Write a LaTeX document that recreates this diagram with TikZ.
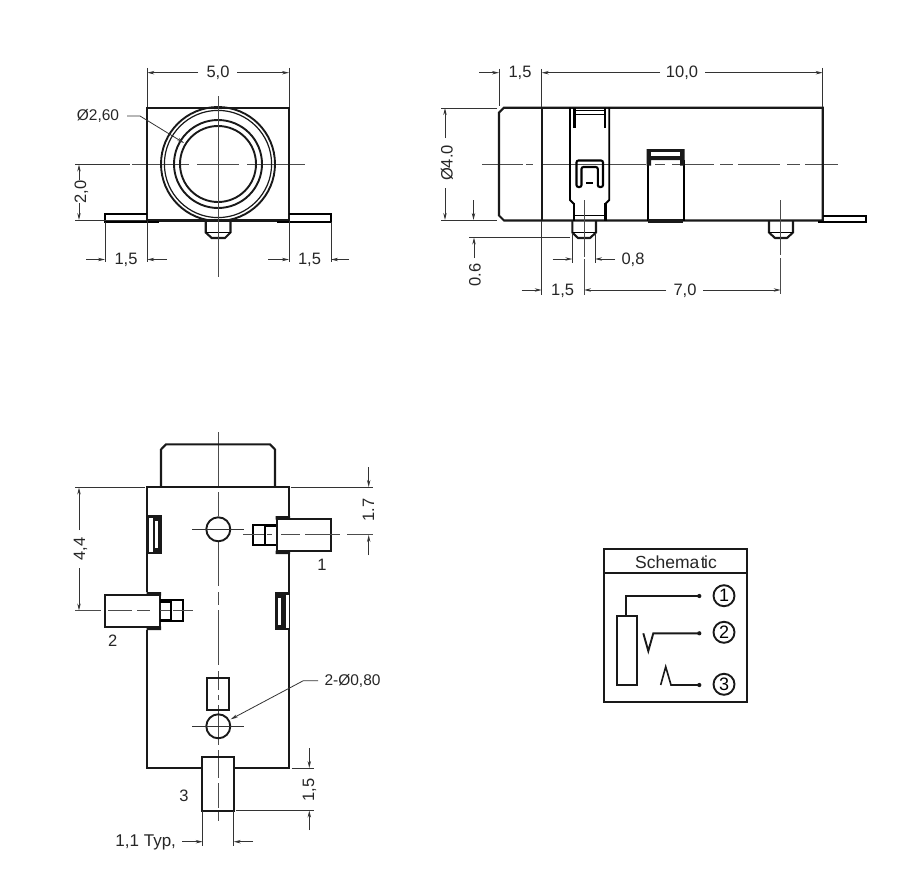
\documentclass[tikz,border=0pt]{standalone}
\usepackage{fontspec}
\setmainfont{Liberation Sans}
\usetikzlibrary{arrows.meta}
\tikzset{
  x=1pt,y=-1pt,
  body/.style={line width=2.1pt,draw=black!90,line join=miter},
  ring/.style={line width=1.9pt,draw=black!90},
  fat/.style={line width=3.6pt,draw=black!90},
  thin/.style={line width=0.8pt,draw=black!80},
  centre/.style={line width=0.8pt,draw=black!70},
  dimto/.style={thin,-{Stealth[length=7pt,width=3.4pt]}},
  lab/.style={font=\fontsize{16.5}{18}\selectfont,text=black!85,inner sep=0pt},
  labs/.style={font=\fontsize{15.5}{18}\selectfont,text=black!85,inner sep=0pt},
  rotlab/.style={lab,rotate=90},
  term/.style={circle,draw=black!90,line width=1.9pt,minimum size=21pt,inner sep=0pt,font=\fontsize{18}{18}\selectfont},
}
\begin{document}
\begin{tikzpicture}
\useasboundingbox[fill=white] (0,0) rectangle (913,883);

%% ===== Front view =====
\draw[centre] (132,164)--(189,164) (197,164)--(239,164) (247,164)--(305,164);
\draw[thin] (75,164)--(130,164);
\draw[body] (147.3,220.5)--(147.3,107.7)--(289,107.7)--(289,220.5);
\draw[body] (147.3,220.5)--(289,220.5);
\draw[ring] (218,164) circle (57);
\draw[line width=1.2pt,draw=black!90] (218,164) circle (53.6);
\draw[ring] (218,164) circle (44);
\draw[ring] (218,164) circle (38);
\draw[line width=1.8pt] (147.3,214.3)--(105,214.3)--(105,222)--(159,222);
\draw[line width=1.8pt] (289,214.3)--(331,214.3)--(331,222)--(277,222);
\draw[body] (205.7,221)--(205.7,232.5)--(211.7,238)--(225,238)--(230.5,232.5)--(230.5,221);
\draw[line width=1pt] (205.7,232.5)--(230.5,232.5);
\draw[centre] (218,96)--(218,277);

\draw[thin] (147.3,68)--(147.3,107) (289,68)--(289,107);
\draw[dimto] (198,72.7)--(147.3,72.7);
\draw[dimto] (237,72.7)--(289,72.7);
\node[lab] (dimA) at (218,72.5) {5,0};

\node[labs] (dimB) at (98,116) {Ø2,60};
\draw[dimto] (127,116)--(140,116)--(184,143);

\draw[thin] (75,220.3)--(146,220.3);
\draw[dimto] (79,180)--(79,164.5);
\draw[dimto] (79,203)--(79,220);
\node[rotlab] (dimC) at (81.5,192) {2,0};

\draw[thin] (105,222)--(105,262) (147.3,221)--(147.3,262) (289,221)--(289,262) (331,222)--(331,262);
\draw[dimto] (86,259.5)--(105,259.5);
\draw[dimto] (167,259.5)--(147.3,259.5);
\draw[dimto] (268,259.5)--(289,259.5);
\draw[dimto] (349,259.5)--(331,259.5);
\node[lab] (dimD) at (126,260) {1,5};
\node[lab] (dimE) at (309.5,260) {1,5};

%% ===== Side view =====
\draw[centre] (482,164)--(523,164) (526,164)--(533,164) (541,164)--(646,164)
  (655,164)--(665,164) (672,164)--(680,164)
  (685,164)--(714,164) (720,164)--(733,164) (738,164)--(780,164) (787,164)--(800,164) (805,164)--(838,164);
\draw[body] (504,107.7)--(822.7,107.7)--(822.7,220.5)--(504,220.5)--(499,215.5)--(499,112.7)--cycle;
\draw[body] (541.7,107.7)--(541.7,220.5);
% clip
\draw[line width=1.9pt] (570,107.7)--(570,200)--(574,204);
\draw[line width=1.9pt] (609.2,107.7)--(609.2,200)--(605.2,204);
\draw[line width=2.8pt] (574,203)--(574,221) (605.2,203)--(605.2,221);
\draw[line width=2.2pt] (574.5,107.7)--(574.5,128) (604.8,107.7)--(604.8,128);
\draw[line width=1pt] (574.5,110.5)--(604.8,110.5) (574.5,114.3)--(604.8,114.3);
\draw[line width=1pt] (574.5,215.7)--(604.8,215.7);
\draw[line width=2.1pt,rounded corners=2pt] (581.5,187)--(576.5,187)--(576.5,160.5)--(603,160.5)--(603,187)--(597.8,187)--(597.8,167)--(581.5,167)--cycle;
\draw[line width=2pt] (586,183)--(593,183);
% pin
\draw[body] (572.3,221)--(572.3,232.5)--(578,238)--(590,238)--(596,232.5)--(596,221);
\draw[line width=1pt] (572.3,232.5)--(596,232.5);
\draw[centre] (584,200)--(584,257) (584,259)--(584,295);
% right clip
\draw[line width=1.9pt] (647.6,160)--(647.6,221) (683.6,160)--(683.6,221);
\fill[black!90] (646.7,149)rectangle(684.5,160) (646.7,149)rectangle(651,165.5) (680.2,149)rectangle(684.5,165.5);
\fill[white] (651,152)rectangle(680.2,156);
\draw[fat] (648,221.2)--(683,221.2);
% right pin
\draw[body] (769,221)--(769,232.5)--(775,238)--(787,238)--(793,232.5)--(793,221);
\draw[line width=1pt] (769,232.5)--(793,232.5);
\draw[centre] (780.7,200)--(780.7,255) (780.7,258)--(780.7,294);
% tab
\draw[line width=1.8pt] (822.7,215.7)--(865.7,215.7)--(865.7,222)--(818,222);

\draw[thin] (499,69)--(499,106) (541.7,69)--(541.7,107) (822.7,68)--(822.7,107);
\draw[dimto] (479,72.7)--(499,72.7);
\draw[dimto] (660,72.7)--(541.7,72.7);
\draw[dimto] (705,72.7)--(822.7,72.7);
\node[lab] (dimF) at (520,73) {1,5};
\node[lab] (dimG) at (682,73) {10,0};

\draw[thin] (441,108)--(497,108) (441,220.5)--(497,220.5);
\draw[dimto] (445,138)--(445,108);
\draw[dimto] (445,188)--(445,220);
\node[rotlab] (dimH) at (447,163) {Ø4.0};
\draw[dimto] (473.5,200)--(473.5,220);
\draw[thin] (469,237)--(570,237);
\draw[dimto] (474,258)--(474,237.5);
\node[rotlab] (dimI) at (475,275) {0.6};

\draw[thin] (572.3,233)--(572.3,263) (595,233)--(595,263) (541.7,221)--(541.7,295);
\draw[dimto] (552.7,259)--(572.3,259);
\draw[dimto] (615,259)--(595,259);
\node[lab] (dimJ) at (633,259.5) {0,8};
\draw[dimto] (521.7,290)--(541.7,290);
\draw[dimto] (666,290)--(584,290);
\draw[dimto] (703,290)--(780.7,290);
\node[lab] (dimK) at (562.7,290.5) {1,5};
\node[lab] (dimL) at (685,290.5) {7,0};

%% ===== Bottom view =====
\draw[centre] (218,432)--(218,486) (218,492)--(218,516) (218,542)--(218,586) (218,592)--(218,605)
  (218,610)--(218,665) (218,671)--(218,690) (218,695)--(218,700) (218,705)--(218,745) (218,750)--(218,778)
  (218,783)--(218,808) (218,812)--(218,821);
\draw[body] (161,487.3)--(161,449.5)--(166,444.3)--(270,444.3)--(275,449.5)--(275,487.3);
\draw[body] (147.3,592)--(147.3,487.3)--(289,487.3)--(289,516);
\draw[body] (289,554)--(289,768.3)--(234,768.3) (202.3,768.3)--(147.3,768.3)--(147.3,630);
\draw[ring] (218.3,529.3) circle (12);
\draw[thin] (192,529.3)--(244,529.3);
\draw[ring] (218.3,726.3) circle (12);
\draw[thin] (192,726.3)--(244,726.3);
\draw[body] (206.7,677.7) rectangle (229.3,710.3);
% pin 1
\draw[body] (276.7,519) rectangle (331,550.7);
\draw[line width=1.7pt] (276,524.8)--(252.7,524.8)--(252.7,545)--(276,545);
\draw[line width=1.7pt] (265,525)--(265,545);
\draw[line width=3pt] (265,525.5)--(276,525.5);
\fill[black!90] (275.5,516)rectangle(290,519.5) (275.5,550.5)rectangle(290,554);
\draw[centre] (243,534.7)--(264,534.7) (267,534.7)--(272,534.7) (281,534.7)--(300,534.7) (305,534.7)--(340,534.7) (347,534.7)--(373,534.7);
% pin 2
\draw[body] (105,595) rectangle (160,626.7);
\draw[line width=1.7pt] (160,600.2)--(183.3,600.2)--(183.3,621)--(160,621);
\draw[line width=1.7pt] (171,600.5)--(171,621);
\draw[line width=3pt] (160,601)--(171,601) (160,620.3)--(171,620.3);
\fill[black!90] (146.5,592)rectangle(161,595.5) (146.5,626.3)rectangle(161,630);
\draw[centre] (75,610.7)--(101,610.7) (108,610.7)--(132,610.7) (137,610.7)--(150,610.7) (160,610.7)--(170,610.7) (173,610.7)--(193,610.7);
% pin 3
\draw[body] (202.3,756.7) rectangle (234,810.7);
% slots
\fill[black!90] (147,515) rectangle (161.7,554);
\fill[white] (149,518) rectangle (152.7,552);
\fill[white] (155,521) rectangle (158.3,548);
\fill[black!90] (274.7,591.7) rectangle (289.3,630);
\fill[white] (285.6,594.7) rectangle (289,628);
\fill[white] (278,597.7) rectangle (281.3,624.7);
\draw[line width=1.1pt,draw=black!90] (147.3,515)--(147.3,554) (289.2,592)--(289.2,630);

\draw[thin] (75,487.3)--(145,487.3);
\draw[dimto] (79,530)--(79,487.5);
\draw[dimto] (79,568)--(79,610.5);
\node[rotlab] (dimM) at (80.5,549) {4,4};
\draw[thin] (290.7,487.3)--(373,487.3);
\draw[dimto] (368.7,467)--(368.7,487);
\draw[dimto] (368.7,555)--(368.7,535);
\node[rotlab] (dimN) at (368.5,510) {1.7};
\node[lab] (pinA) at (322,565) {1};
\node[lab] (pinB) at (112.7,641) {2};
\node[lab] (pinC) at (184,796) {3};

\node[labs,anchor=west] (dimO) at (324.3,680.7) {2-Ø0,80};
\draw[dimto] (318,680.7)--(303.3,680.7)--(230.7,719.3);

\draw[thin] (291.7,768.3)--(314,768.3) (236,810.3)--(314,810.3);
\draw[dimto] (309.3,748)--(309.3,768);
\draw[dimto] (309.3,830)--(309.3,810.5);
\node[rotlab] (dimP) at (309.5,790) {1,5};

\draw[thin] (202.7,811)--(202.7,846) (233.7,811)--(233.7,846);
\draw[dimto] (182,841.7)--(202.7,841.7);
\draw[dimto] (253,841.7)--(233.7,841.7);
\node[font=\fontsize{17}{18}\selectfont,text=black!85,inner sep=0pt] (dimQ) at (145.7,842) {1,1 Typ,};

%% ===== Schematic =====
\draw[body] (604,549.3) rectangle (747.3,701.7);
\draw[body] (604,572.7)--(747.3,572.7);
\node[font=\fontsize{17.5}{18}\selectfont,text=black!85,inner sep=0pt] (schemTitle) at (676,562) {Schema\kern1.5pt t\kern-1.5pt ic};
\draw[line width=1.7pt,draw=black!90] (617.3,616) rectangle (636.7,685);
\coordinate (wireA) at (699.3,596);
\coordinate (wireB) at (699.3,633.3);
\coordinate (wireC) at (699.3,685);
\draw[line width=1.6pt,draw=black!90] (626,616)--(626,596)--(wireA);
\draw[line width=1.9pt,draw=black!90] (643.3,633.3)--(648.3,651)--(653.3,633.3)--(wireB);
\draw[line width=1.6pt,draw=black!90] (660.7,685)--(665.7,666.7)--(671,685)--(wireC);
\fill[black!90] (wireA) circle (2.1) (wireB) circle (2.1) (wireC) circle (2.1);
\node[term] (termA) at (724,595.7) {1};
\node[term] (termB) at (724,632.3) {2};
\node[term] (termC) at (724,684.3) {3};
\end{tikzpicture}
\end{document}
